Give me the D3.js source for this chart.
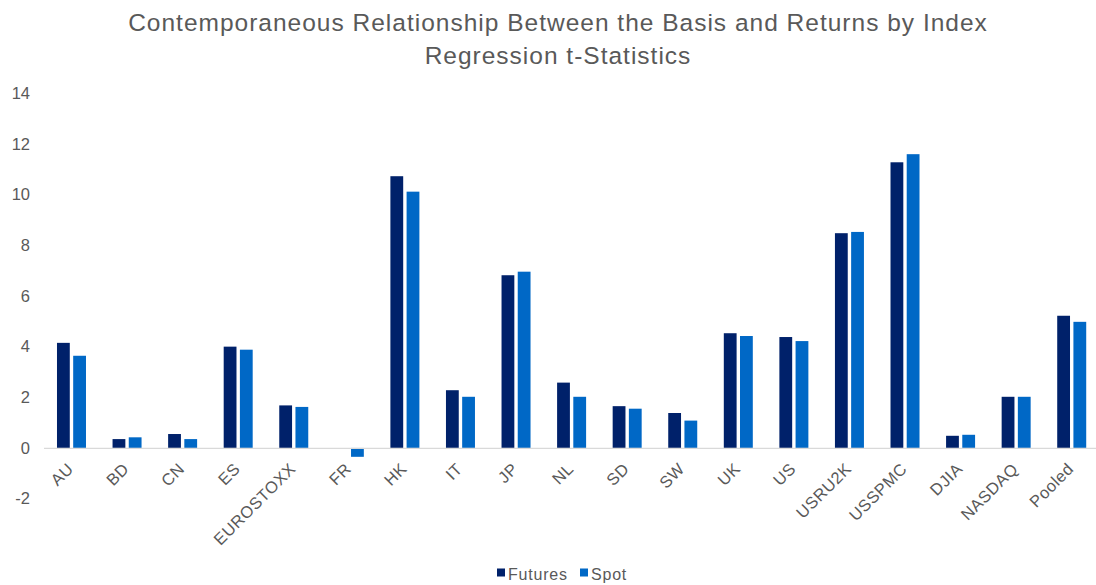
<!DOCTYPE html>
<html>
<head>
<meta charset="utf-8">
<script src="https://cdn.jsdelivr.net/npm/d3@7"></script>
<style>
  html, body { margin: 0; padding: 0; background: #fff; }
  svg { display: block; font-family: "Liberation Sans", Arial, sans-serif; }
</style>
</head>
<body>
<svg id="chart" width="1096" height="585"></svg>
<script>
// Regression t-statistics by index
const categories = ["AU", "BD", "CN", "ES", "EUROSTOXX", "FR", "HK", "IT", "JP", "NL",
  "SD", "SW", "UK", "US", "USRU2K", "USSPMC", "DJIA", "NASDAQ", "Pooled"];
const futures = [4.15, 0.35, 0.55, 4.0, 1.68, 0, 10.73, 2.28, 6.82, 2.58,
  1.65, 1.38, 4.53, 4.38, 8.48, 11.28, 0.48, 2.02, 5.22];
const spot = [3.64, 0.42, 0.35, 3.88, 1.62, -0.35, 10.12, 2.02, 6.96, 2.02,
  1.55, 1.08, 4.42, 4.22, 8.53, 11.6, 0.52, 2.02, 4.98];
const seriesNames = ["Futures", "Spot"];
const yTicks = [-2, 0, 2, 4, 6, 8, 10, 12, 14];
const colors = ["#00216a", "#0068c6"];

const svg = d3.select("#chart");
const grey = "#595959";

const x = d3.scaleBand().domain(categories).range([43.7, 1099.5]).paddingInner(0).paddingOuter(0);
const y = d3.scaleLinear().domain([-2, 14]).range([498.6, 93.4]);

// Title
const title = svg.append("text")
  .attr("x", 558).attr("y", 31)
  .attr("text-anchor", "middle")
  .attr("fill", grey)
  .style("font-size", "24.5px")
  .style("letter-spacing", "1px");
title.append("tspan").attr("x", 558).attr("dy", 0)
  .text("Contemporaneous Relationship Between the Basis and Returns by Index");
title.append("tspan").attr("x", 558).attr("dy", 33).text("Regression t-Statistics");

// Y axis labels (no line, no ticks)
const yAxis = svg.append("g")
  .attr("transform", "translate(30,0)")
  .call(d3.axisLeft(y).tickValues(yTicks).tickSize(0).tickPadding(0)
    .tickFormat(d => String(d)));
yAxis.select(".domain").remove();
yAxis.selectAll("text")
  .attr("fill", grey)
  .style("font-size", "16.5px")
  .style("font-family", "'Liberation Sans', Arial, sans-serif");

// Bars
const barW = 12.8, gap = 3.4;
const sub = d3.scaleOrdinal().domain(seriesNames).range([-(barW + gap / 2), gap / 2]);
const data = [futures, spot];
seriesNames.forEach((name, si) => {
  svg.append("g").selectAll("rect")
    .data(categories.map((c, i) => ({ c, v: data[si][i] })))
    .join("rect")
    .attr("x", d => x(d.c) + x.bandwidth() / 2 + sub(name))
    .attr("width", barW)
    .attr("y", d => y(Math.max(0, d.v)))
    .attr("height", d => Math.abs(y(d.v) - y(0)))
    .attr("fill", colors[si]);
});

// Category axis at zero
const xAxis = svg.append("g")
  .attr("transform", `translate(0,${y(0)})`)
  .call(d3.axisBottom(x).tickSize(0).tickPadding(0));
xAxis.select(".domain")
  .attr("d", `M44,0.5H1096`)
  .attr("stroke", "#d9d9d9")
  .attr("stroke-width", 1.3);
xAxis.selectAll(".tick text")
  .attr("fill", grey)
  .attr("text-anchor", "end")
  .attr("dy", 0)
  .attr("y", 0)
  .attr("transform", "translate(3,22) rotate(-45)")
  .style("font-size", "16.5px")
  .style("letter-spacing", "0.5px")
  .style("font-family", "'Liberation Sans', Arial, sans-serif");

// Legend
const legend = svg.append("g").attr("transform", "translate(497,574)");
const items = [{ name: "Futures", dx: 0 }, { name: "Spot", dx: 83 }];
items.forEach((it, i) => {
  const g = legend.append("g").attr("transform", `translate(${it.dx},0)`);
  g.append("rect").attr("x", 0).attr("y", -5.5).attr("width", 8).attr("height", 8).attr("fill", colors[i]);
  g.append("text").attr("x", 11).attr("y", 6).attr("fill", grey)
    .style("font-size", "16px").style("letter-spacing", "0.8px").text(it.name);
});
</script>
</body>
</html>
